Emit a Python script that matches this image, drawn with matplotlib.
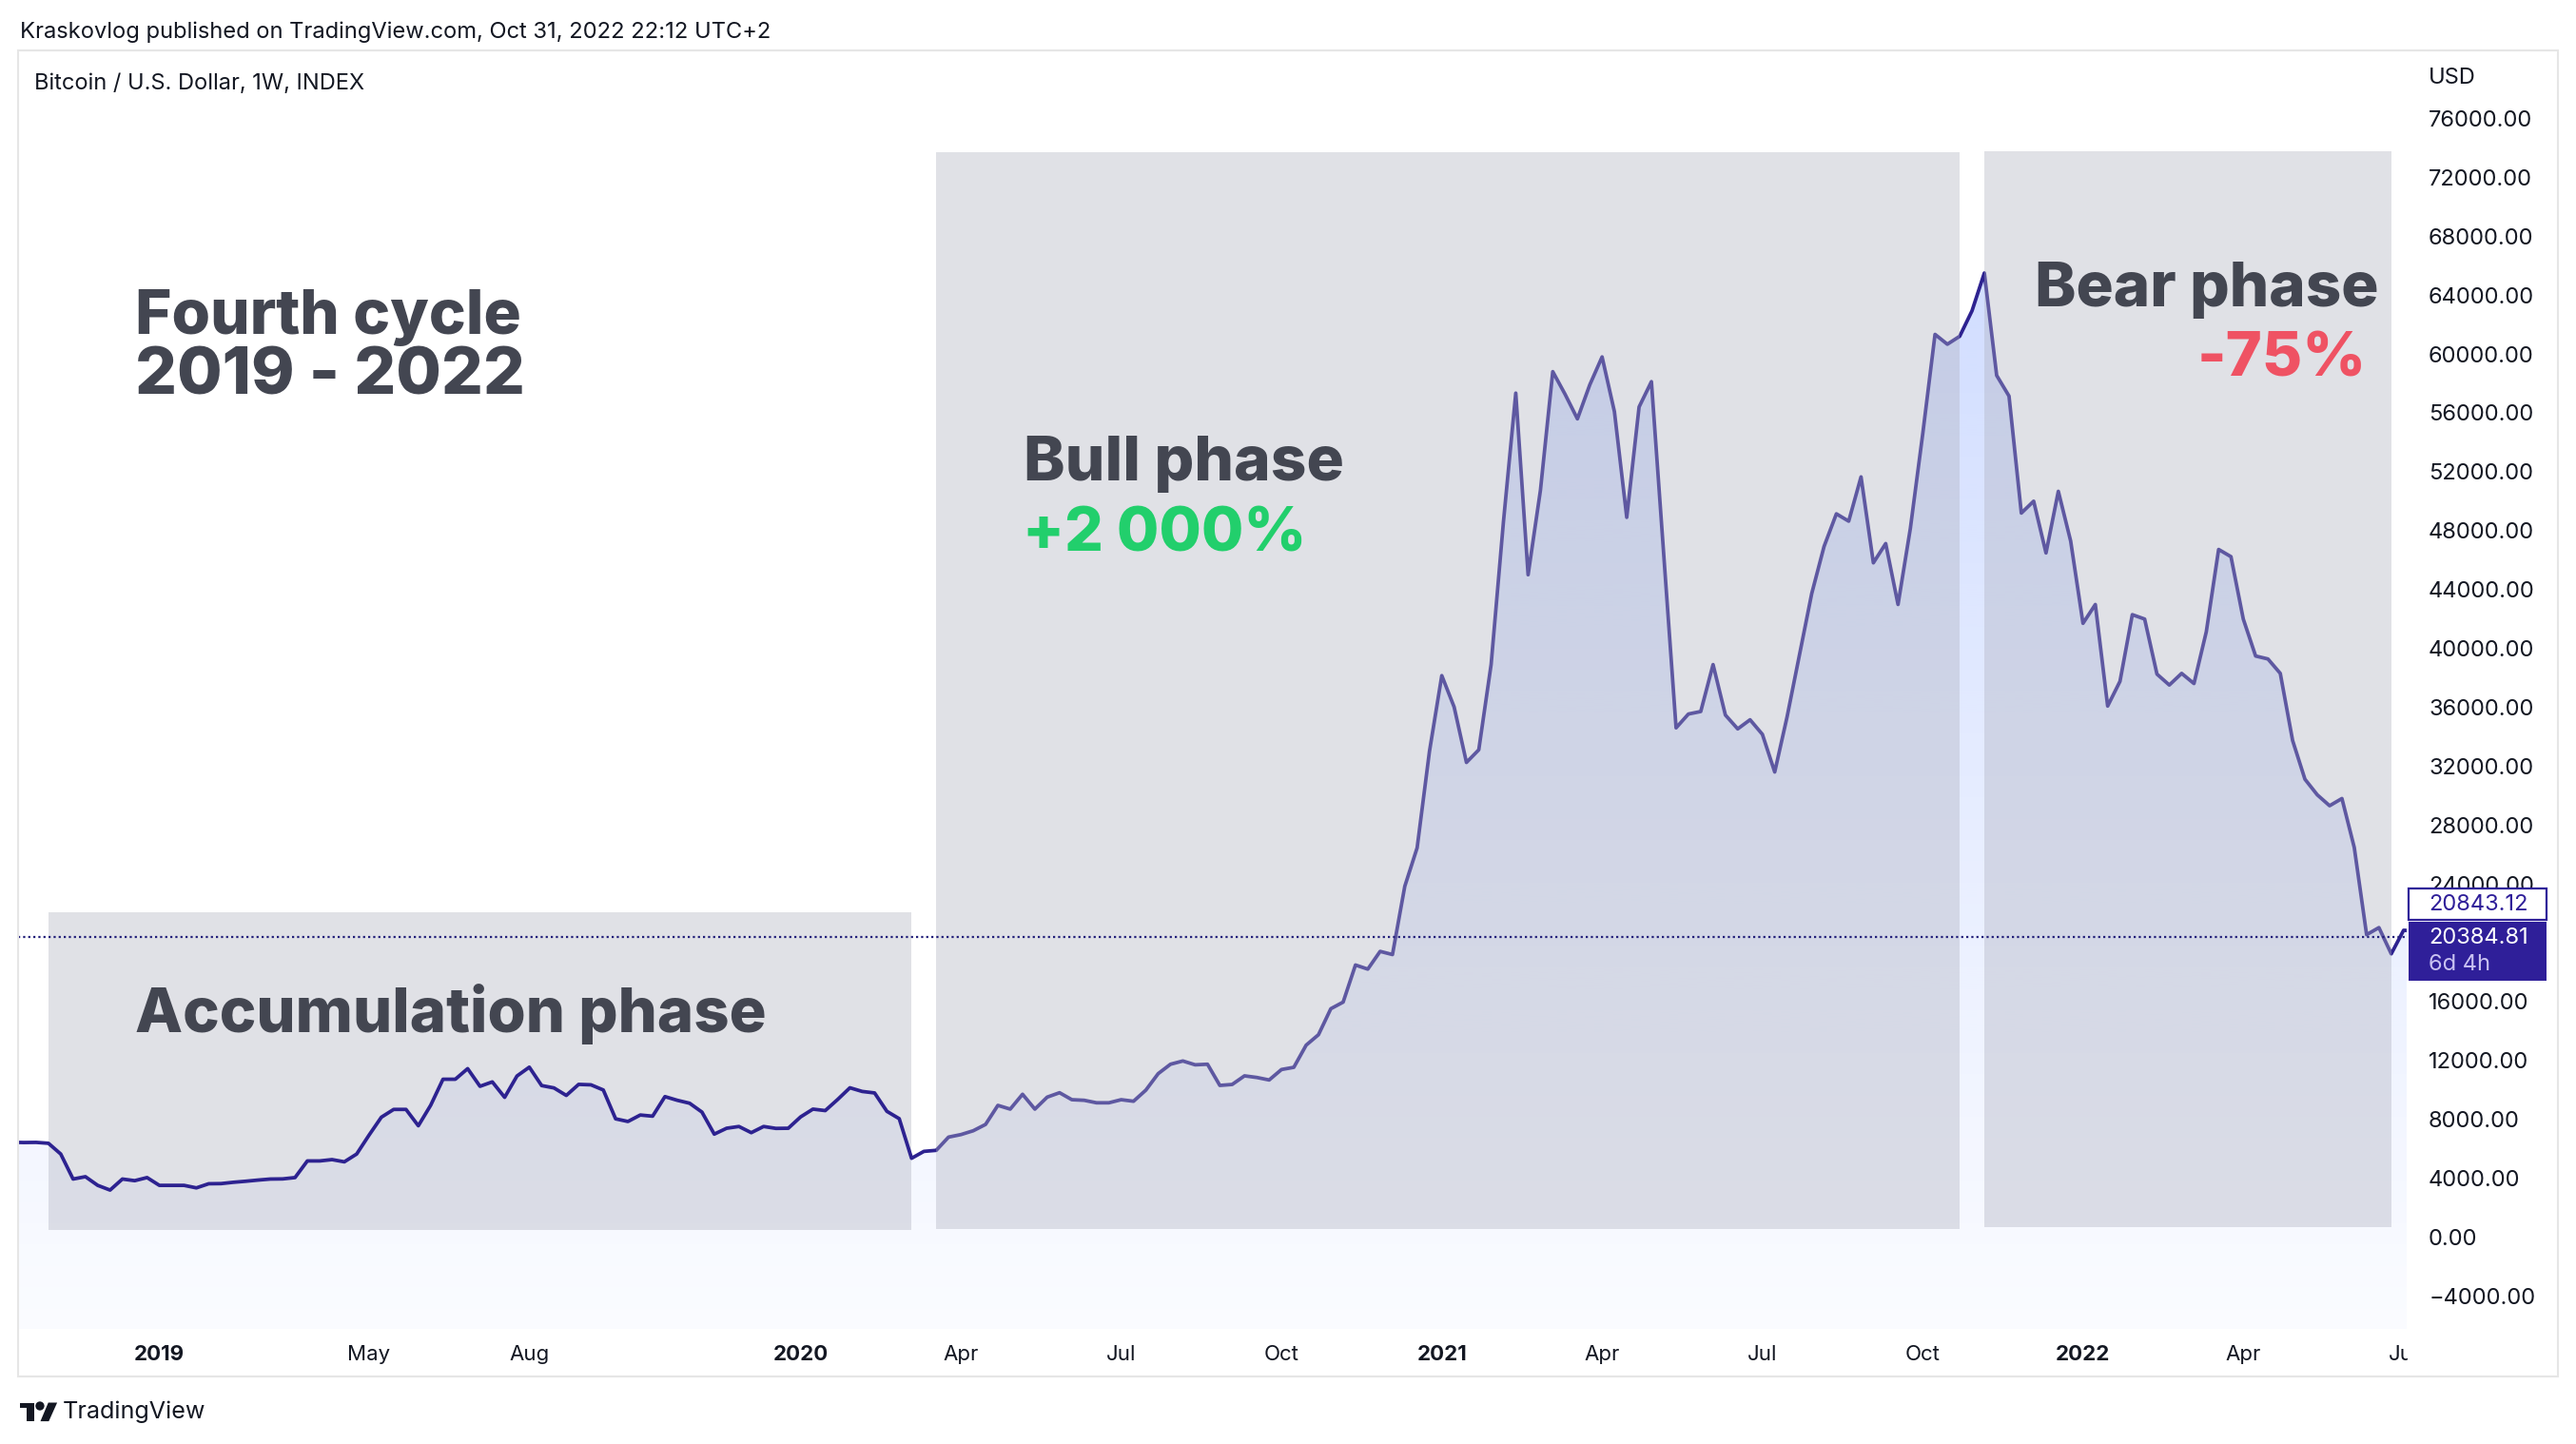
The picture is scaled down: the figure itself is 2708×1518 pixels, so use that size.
import numpy as np
import pandas as pd
import matplotlib
matplotlib.use("Agg")
import matplotlib.pyplot as plt
import matplotlib.dates as mdates
from matplotlib.patches import Rectangle, PathPatch, Polygon, Ellipse

# ---------------- data (weekly closes, bars dated on Monday) ----------------
start_date = "2018-10-15"
closes_2018 = [6450, 6430, 6440, 6380, 5650, 3950, 4110, 3520, 3200, 3950, 3840, 4050]
closes_2019 = [3520, 3520, 3520, 3350, 3630, 3640, 3730, 3800, 3880, 3950,
               3960, 4050, 5180, 5180, 5270, 5120, 5650, 6930, 8150, 8680,
               8680, 7570, 8960, 10730, 10730, 11450, 10250, 10550, 9500, 10950,
               11550, 10300, 10140, 9630, 10380, 10350, 10000, 8040, 7860, 8300,
               8220, 9550, 9300, 9100, 8500, 7000, 7400, 7520, 7100, 7520,
               7390, 7400]
closes_2020 = [8170, 8700, 8600, 9350, 10150, 9900, 9800, 8550, 8050, 5360,
               5830, 5900, 6800, 6970, 7230, 7660, 8955, 8700, 9710, 8700,
               9515, 9815, 9340, 9300, 9130, 9130, 9340, 9235, 9990, 11110,
               11750, 11970, 11710, 11750, 10310, 10375, 10960, 10850, 10680, 11390,
               11540, 13045, 13755, 15520, 15970, 18490, 18210, 19415, 19200, 23840,
               26450, 33000]
closes_2021 = [38150, 36020, 32250, 33110, 38900, 48600, 57340, 45000, 50740, 58800,
               57260, 55590, 57900, 59800, 56080, 48900, 56400, 58120, 46370, 34600,
               35540, 35710, 38900, 35470, 34530, 35150, 34160, 31600, 35340, 39530,
               43720, 46920, 49140, 48640, 51650, 45810, 47120, 42980, 48150, 54550,
               61330, 60660, 61200, 62930, 65500, 58540, 57140, 49190, 50000, 46480,
               50670, 47290]
closes_2022 = [41700, 42980, 36080, 37760, 42290, 41990, 38250, 37510, 38300, 37610,
               41130, 46720, 46230, 41990, 39480, 39280, 38300, 33740, 31110, 30050,
               29310, 29800, 26470, 20550, 21030, 19250, 20850, 20800, 22500]

last_price = 20384.81
prev_price_label = "20843.12"
countdown_label = "6d 4h"

y_ticks = list(range(-4000, 76001, 4000))
hidden_y_ticks = {20000}  # covered by the last-price label on the scale
x_tick_dates = ["2019-01-07", "2019-05-06", "2019-08-05", "2020-01-06", "2020-04-06",
                "2020-07-06", "2020-10-05", "2021-01-04", "2021-04-05", "2021-07-05",
                "2021-10-04", "2022-01-03", "2022-04-04", "2022-07-04"]
x_tick_labels = ["2019", "May", "Aug", "2020", "Apr", "Jul", "Oct",
                 "2021", "Apr", "Jul", "Oct", "2022", "Apr", "Jul"]
year_labels = {"2019", "2020", "2021", "2022"}

# phase boxes (time span, price span)
phase_boxes = {
    "accumulation": ("2018-11-05", "2020-03-09", 480, 22100),
    "bull": ("2020-03-23", "2021-10-25", 580, 73700),
    "bear": ("2021-11-08", "2022-06-27", 690, 73800),
}

prices = np.array(closes_2018 + closes_2019 + closes_2020 + closes_2021 + closes_2022, float)
dates = pd.date_range(start_date, periods=len(prices), freq="7D")
x = mdates.date2num(dates)

# ---------------- figure ----------------
W, H, DPI = 2708, 1518, 100
fig = plt.figure(figsize=(W / DPI, H / DPI), dpi=DPI, facecolor="white")


def fx(px):
    return px / W


def fy(py):
    return 1 - py / H


AX_L, AX_R, AX_T, AX_B = 19, 2530, 53, 1397
ax = fig.add_axes([fx(AX_L), fy(AX_B), fx(AX_R) - fx(AX_L), fy(AX_T) - fy(AX_B)])
ax.set_facecolor("white")
for s in ax.spines.values():
    s.set_visible(False)

t0 = mdates.date2num(pd.Timestamp("2019-01-07"))
xl, xr = t0 - 11.46 * 7, t0 + 182.25 * 7
ylo, yhi = -6230, 80620
ax.set_xlim(xl, xr)
ax.set_ylim(ylo, yhi)

LINE = "#2d2290"
TXT = "#131722"
DARK = "#434651"

# gradient area fill
poly = ax.fill_between(x, prices, ylo, facecolor="none", edgecolor="none")
clip = PathPatch(poly.get_paths()[0], transform=ax.transData, facecolor="none", edgecolor="none")
ax.add_patch(clip)
g = np.linspace(0, 1, 512)
rgba = np.zeros((512, 1, 4))
rgba[:, 0, 0] = 41 / 255
rgba[:, 0, 1] = 98 / 255
rgba[:, 0, 2] = 1.0
rgba[:, 0, 3] = 0.02 + (0.255 - 0.02) * g
im = ax.imshow(rgba, extent=[xl, xr, ylo, yhi], origin="lower", aspect="auto",
               zorder=1, interpolation="bilinear")
im.set_clip_path(clip)

BOX_RGB = (175 / 255, 177 / 255, 190 / 255)
for name, (d0, d1, p0, p1) in phase_boxes.items():
    a0 = mdates.date2num(pd.Timestamp(d0))
    a1 = mdates.date2num(pd.Timestamp(d1))
    z = 2 if name == "accumulation" else 4
    ax.add_patch(Rectangle((a0, p0), a1 - a0, p1 - p0, facecolor=BOX_RGB,
                           alpha=0.385, edgecolor="none", zorder=z))

ax.plot(x, prices, color=LINE, lw=2.7, zorder=3, solid_joinstyle="round")
ax.axhline(last_price, color="#23207a", lw=1.6, linestyle=(0, (1, 1.4)), zorder=5)

# axes ticks
ax.yaxis.tick_right()
ax.set_yticks(y_ticks)
ax.set_yticklabels(["" if v in hidden_y_ticks else f"{v:.2f}".replace("-", "\u2212")
                    for v in y_ticks])
ax.tick_params(axis="y", length=0, pad=16.6, labelsize=17, labelcolor=TXT)
ax.set_xticks([mdates.date2num(pd.Timestamp(d)) for d in x_tick_dates])
ax.set_xticklabels(x_tick_labels)
ax.tick_params(axis="x", length=0, pad=19.2, labelsize=16, labelcolor=TXT)
for lbl in ax.get_xticklabels():
    lbl.set_va("center")
    if lbl.get_text() in year_labels:
        lbl.set_fontweight("bold")
for lbl in ax.get_xticklabels() + ax.get_yticklabels():
    lbl.set_fontfamily(["Inter", "DejaVu Sans"])

# cover for time-axis labels running under the price scale
fig.add_artist(Rectangle((fx(2531), fy(1445)), fx(2687) - fx(2531), fy(1400) - fy(1445),
                         transform=fig.transFigure, facecolor="white", edgecolor="none", zorder=2))

renderer = fig.canvas.get_renderer()


def ftext(xp, yp, s, target_w=None, size=20, **kw):
    kw.setdefault("family", ["Inter", "DejaVu Sans"])
    t = fig.text(fx(xp), fy(yp), s, fontsize=size, **kw)
    if target_w:
        bb = t.get_window_extent(renderer=renderer)
        t.set_fontsize(size * target_w / bb.width)
    return t


# header
ftext(20.7, 33.5, "Kraskovlog published on TradingView.com, Oct 31, 2022 22:12 UTC+2",
      target_w=789, color=TXT, va="center", ha="left")
ftext(36, 87.5, "Bitcoin / U.S. Dollar, 1W, INDEX", target_w=347, color=TXT,
      va="center", ha="left", zorder=6)
ftext(2553, 82, "USD", size=17, color=TXT, va="center", ha="left")

# annotations
BIG = "heavy"
ftext(141.6, 350.6, "Fourth cycle", target_w=406, color=DARK, weight=BIG, va="baseline")
ftext(141.6, 414.5, "2019 - 2022", target_w=411, color=DARK, weight=BIG, va="baseline")
ftext(141.6, 1084.6, "Accumulation phase", target_w=663, color=DARK, weight=BIG,
      va="baseline", zorder=6)
ftext(1076, 505, "Bull phase", target_w=336, color=DARK, weight=BIG, va="baseline", zorder=6)
ftext(1075, 579, "+2 000%", target_w=298, color="#22cf6c", weight=BIG, va="baseline", zorder=6)
ftext(2139, 322, "Bear phase", target_w=362, color=DARK, weight=BIG, va="baseline", zorder=6)
ftext(2488, 395.5, "-75%", target_w=178, color="#ef5263", weight=BIG, va="baseline",
      ha="right", zorder=6)

# price labels on scale
fig.add_artist(Rectangle((fx(2532), fy(967)), fx(2677) - fx(2532), fy(934) - fy(967),
                         transform=fig.transFigure, facecolor="white", edgecolor="#2f1f99",
                         lw=1.6, zorder=5))
fig.add_artist(Rectangle((fx(2532), fy(1031)), fx(2677) - fx(2532), fy(969) - fy(1031),
                         transform=fig.transFigure, facecolor="#2f1f99", edgecolor="none",
                         zorder=5))
ftext(2553, 951, prev_price_label, size=17, color="#2f1f99", va="center", ha="left", zorder=6)
ftext(2553, 986, f"{last_price:.2f}", size=17, color="white", va="center", ha="left", zorder=6)
ftext(2553, 1014, countdown_label, size=17, color="#c9c2f2", va="center", ha="left", zorder=6)

# outer frame
fig.add_artist(Rectangle((fx(19), fy(1447)), fx(2689) - fx(19), fy(53) - fy(1447),
                         transform=fig.transFigure, fill=False, edgecolor="#e6e6e6", lw=1.5,
                         zorder=7))

# TradingView logo (simple shapes) + wordmark
lx, ly, sx, sy = 20.5, 1474.5, 1.1, 0.7


def lp(u, v):
    return (fx(lx + u * sx), fy(ly + v * sy))


fig.add_artist(Polygon([lp(0, 0), lp(14, 0), lp(14, 28), lp(7, 28), lp(7, 8), lp(0, 8)],
                       closed=True, transform=fig.transFigure, facecolor=TXT, edgecolor="none"))
fig.add_artist(Polygon([lp(20, 28), lp(27.5, 0), lp(36, 0), lp(28, 28)], closed=True,
                       transform=fig.transFigure, facecolor=TXT, edgecolor="none"))
cx, cy = lp(19.5, 5)
fig.add_artist(Ellipse((cx, cy), 8.5 * sx / W, 8.5 * sx / H,
                       transform=fig.transFigure, facecolor=TXT, edgecolor="none"))
ftext(66, 1484, "TradingView", target_w=150, color=TXT, va="center", ha="left")

fig.savefig("out.png", dpi=DPI, facecolor="white")
